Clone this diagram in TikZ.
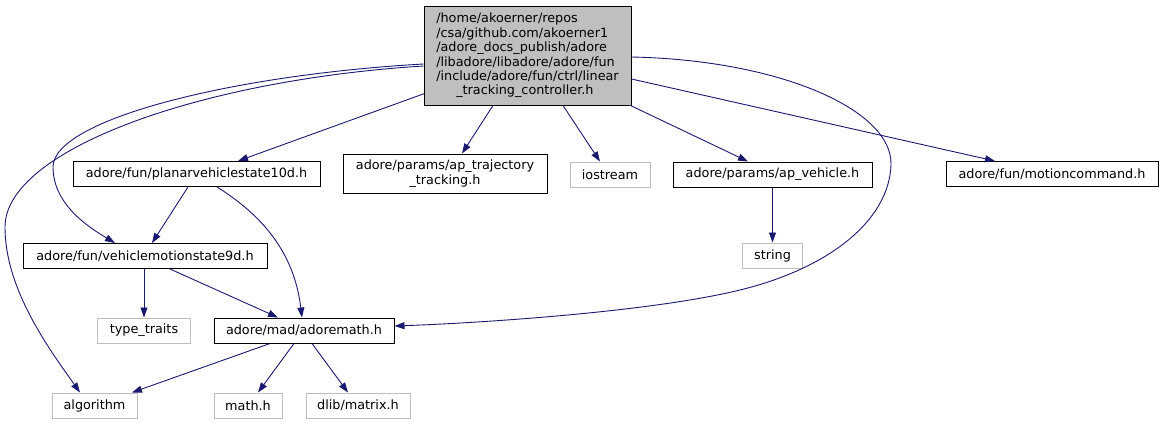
\documentclass[tikz,border=0pt]{standalone}
\usepackage{fontspec}
\setmainfont{DejaVu Sans}
\usetikzlibrary{arrows.meta,calc}
\definecolor{edgeblue}{RGB}{25,25,112}
\definecolor{extgray}{RGB}{191,191,191}
\definecolor{rootfill}{RGB}{191,191,191}
\begin{document}
\begin{tikzpicture}[x=1pt,y=-1pt,
  base/.style={rectangle, inner sep=0pt, font=\fontsize{12.8}{14.4}\selectfont, minimum height=25pt, anchor=center, line width=1pt},
  doc/.style={base, draw=black},
  ext/.style={base, draw=extgray},
  dep/.style={draw=edgeblue, line width=0.9pt, -{Triangle[length=10pt,width=7pt]}},
]
\useasboundingbox (0,0) rectangle (1162,424);

\node[doc, fill=rootfill, minimum width=207pt, minimum height=99pt, align=left] (root) at (527.5,55.5)
 {/home/akoerner/repos\\/csa/github.com/akoerner1\\/adore\_docs\_publish/adore\\/libadore/libadore/adore/fun\\/include/adore/fun/ctrl/linear\\\hspace*{20pt}\_tracking\_controller.h};

\node[doc, minimum width=247pt] (planar) at (196.5,174) {adore/fun/planarvehiclestate10d.h};
\node[doc, minimum width=204pt, minimum height=39pt, align=center] (traj) at (445,173.5) {adore/params/ap\_trajectory\\\_tracking.h};
\node[ext, minimum width=80pt] (ios) at (610,174.5) {iostream};
\node[doc, minimum width=199pt] (apv) at (772.5,174.5) {adore/params/ap\_vehicle.h};
\node[doc, minimum width=212pt] (mc) at (1052,174) {adore/fun/motioncommand.h};
\node[doc, minimum width=244pt] (vms) at (145,256) {adore/fun/vehiclemotionstate9d.h};
\node[ext, minimum width=60pt] (str) at (772.5,255.5) {string};
\node[ext, minimum width=93pt] (tt) at (144,330.5) {type\_traits};
\node[doc, minimum width=180pt] (am) at (304,330.5) {adore/mad/adoremath.h};
\node[ext, minimum width=85pt] (alg) at (94.5,405.5) {algorithm};
\node[ext, minimum width=68pt] (mh) at (248,405.5) {math.h};
\node[ext, minimum width=104pt] (dl) at (358,405.5) {dlib/matrix.h};

% root edges
\draw[dep] ($(root.south west)+(1,-12)$) -- ($(planar.north)+(41.5,0)$);
\draw[dep] ($(root.south)+(-34.5,0)$) -- ($(traj.north)+(17,0)$);
\draw[dep] ($(root.south)+(35.5,0)$) -- ($(ios.north)+(-10,0)$);
\draw[dep] ($(root.south east)+(-1,0)$) -- ($(apv.north)+(-24.5,0)$);
\draw[dep] ($(root.east)+(0,23.5)$) -- ($(mc.north)+(-57,0)$);
\draw[dep] ($(root.east)+(0,1.5)$) .. controls (780,60) and (893,110) .. (891,165)
  .. controls (889,220) and (830,268) .. (740,290)
  .. controls (650,312) and (480,323) .. ($(am.east)+(0,-4.5)$);
\draw[dep] ($(root.west)+(0,8.5)$) .. controls (230,75) and (53,120) .. (53,167)
  .. controls (53,205) and (90,228) .. ($(vms.north)+(-30,0)$);
\draw[dep] ($(root.west)+(0,10.5)$) .. controls (200,80) and (5,150) .. (5,227)
  .. controls (5,290) and (50,350) .. ($(alg.north)+(-14.5,0)$);

% other edges
\draw[dep] ($(planar.south)+(-8.5,0)$) -- ($(vms.north)+(7,0)$);
\draw[dep] ($(planar.south)+(20.5,0)$) .. controls (270,220) and (295,260) .. ($(am.north)+(-2,0)$);
\draw[dep] (vms.south -| tt.north) -- (tt.north);
\draw[dep] ($(vms.south)+(25,0)$) -- ($(am.north)+(-26,0)$);
\draw[dep] ($(am.south)+(-34,0)$) -- ($(alg.north)+(37.5,0)$);
\draw[dep] ($(am.south)+(-10,0)$) -- ($(mh.north)+(10,0)$);
\draw[dep] ($(am.south)+(8,0)$) -- ($(dl.north)+(-10,0)$);
\draw[dep] (apv.south) -- (str.north);
\end{tikzpicture}
\end{document}
